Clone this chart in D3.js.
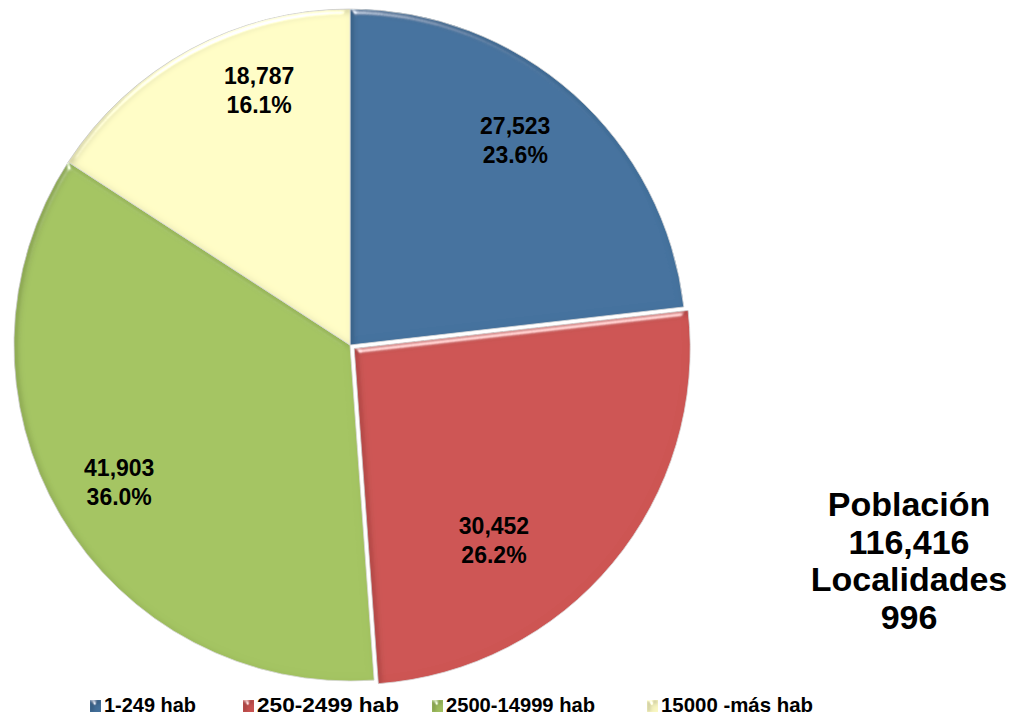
<!DOCTYPE html>
<html>
<head>
<meta charset="utf-8">
<script src="https://cdn.jsdelivr.net/npm/d3@7"></script>
<style>
  body { margin: 0; background: #fff; }
  text { font-family: "Liberation Sans", Arial, sans-serif; font-weight: bold; }
</style>
</head>
<body>
<div id="container"></div>
<script>
var width = 1015,
    height = 717;

// data
var categories = ["1-249 hab", "250-2499 hab", "2500-14999 hab", "15000 -más hab"];
var values = [27523, 30452, 41903, 18787];
var totalPoblacion = 116416;
var totalLocalidades = 996;
var colors = ["#44729e", "#cd5453", "#a4c462", "#fffdc6"];

// label placement (angle nudge in degrees, radius) and slice explode
var labelAngleNudge = [-3, 14, 0, 9];
var labelRadius = [264, 236, 268, 272];
var explode = [0, 5.5, 0, 0];

var cx = 350, cy = 345, radius = 336;

var svg = d3.select("#container")
    .append("svg")
    .attr("width", width)
    .attr("height", height);

var defs = svg.append("defs");

// bevel: highlight on edges facing the light, shade on the opposite edges
var filter = defs.append("filter")
    .attr("id", "bevel")
    .attr("x", "-5%").attr("y", "-5%")
    .attr("width", "110%").attr("height", "110%");
filter.append("feGaussianBlur")
    .attr("in", "SourceAlpha")
    .attr("stdDeviation", 3)
    .attr("result", "blur");
var spec = filter.append("feSpecularLighting")
    .attr("in", "blur")
    .attr("surfaceScale", 5)
    .attr("specularConstant", 0.9)
    .attr("specularExponent", 30)
    .attr("lighting-color", "#ffffff")
    .attr("result", "spec");
spec.append("feDistantLight").attr("azimuth", 250).attr("elevation", 20);
filter.append("feComposite")
    .attr("in", "spec").attr("in2", "SourceAlpha")
    .attr("operator", "in").attr("result", "specIn");
// shade
filter.append("feOffset")
    .attr("in", "blur").attr("dx", 3).attr("dy", 3).attr("result", "off");
filter.append("feComposite")
    .attr("in", "SourceAlpha").attr("in2", "off")
    .attr("operator", "out").attr("result", "rim");
filter.append("feGaussianBlur")
    .attr("in", "rim").attr("stdDeviation", 1.5).attr("result", "rimBlur");
filter.append("feComposite")
    .attr("in", "rimBlur").attr("in2", "SourceAlpha")
    .attr("operator", "in").attr("result", "rimIn");
filter.append("feColorMatrix")
    .attr("in", "rimIn").attr("type", "matrix")
    .attr("values", "0 0 0 0 0  0 0 0 0 0  0 0 0 0 0  0 0 0 0.45 0")
    .attr("result", "shade");
var merge = filter.append("feMerge");
merge.append("feMergeNode").attr("in", "SourceGraphic");
merge.append("feMergeNode").attr("in", "shade");
filter.append("feComposite")
    .attr("in2", "specIn")
    .attr("operator", "arithmetic")
    .attr("k1", 0).attr("k2", 1).attr("k3", 0.8).attr("k4", 0);

var pie = d3.pie().sort(null).value(function (d) { return d; });
var arcs = pie(values);

var arc = d3.arc().innerRadius(0).outerRadius(radius);

var g = svg.append("g")
    .attr("transform", "translate(" + cx + "," + cy + ")");

function offset(d, i) {
    var a = (d.startAngle + d.endAngle) / 2;
    return [Math.sin(a) * explode[i], -Math.cos(a) * explode[i]];
}

g.selectAll("path.slice")
    .data(arcs)
    .enter()
    .append("path")
    .attr("class", "slice")
    .attr("d", arc)
    .attr("transform", function (d, i) {
        var o = offset(d, i);
        return "translate(" + o[0] + "," + o[1] + ")";
    })
    .attr("fill", function (d, i) { return colors[i]; })
    .attr("stroke", "#dcdcdc")
    .attr("stroke-width", 0.8)
    .attr("filter", "url(#bevel)");

var fmt = d3.format(",");
var pct = d3.format(".1%");

var labels = g.selectAll("text.lbl")
    .data(arcs)
    .enter()
    .append("text")
    .attr("class", "lbl")
    .attr("text-anchor", "middle")
    .attr("font-size", 23)
    .attr("fill", "#000")
    .attr("transform", function (d, i) {
        var a = (d.startAngle + d.endAngle) / 2 + labelAngleNudge[i] * Math.PI / 180;
        var o = offset(d, i);
        var x = o[0] + Math.sin(a) * labelRadius[i];
        var y = o[1] - Math.cos(a) * labelRadius[i];
        return "translate(" + x + "," + y + ")";
    });

labels.append("tspan")
    .attr("x", 0)
    .attr("y", -5)
    .text(function (d) { return fmt(d.value); });
labels.append("tspan")
    .attr("x", 0)
    .attr("y", 24)
    .text(function (d) { return pct(d.value / totalPoblacion); });

// totals text
var totals = ["Población", fmt(totalPoblacion), "Localidades", String(totalLocalidades)];
svg.append("g")
    .selectAll("text")
    .data(totals)
    .enter()
    .append("text")
    .attr("x", 909)
    .attr("y", function (d, i) { return 516 + i * 37.5; })
    .attr("text-anchor", "middle")
    .attr("font-size", 34)
    .attr("fill", "#000")
    .text(function (d) { return d; });

// legend
var legendX = [90, 243, 432, 647];
var legendW = [92, 142, 149, 152];
var legend = svg.append("g")
    .selectAll("g")
    .data(categories)
    .enter()
    .append("g")
    .attr("transform", function (d, i) { return "translate(" + legendX[i] + ",700)"; });

legend.append("rect")
    .attr("width", 11)
    .attr("height", 12)
    .attr("fill", function (d, i) { return colors[i]; })
    .attr("filter", "url(#bevel)");

legend.append("text")
    .attr("x", 14)
    .attr("y", 12)
    .attr("font-size", 20.5)
    .attr("fill", "#000")
    .attr("textLength", function (d, i) { return legendW[i]; })
    .attr("lengthAdjust", "spacingAndGlyphs")
    .text(function (d) { return d; });
</script>
</body>
</html>
